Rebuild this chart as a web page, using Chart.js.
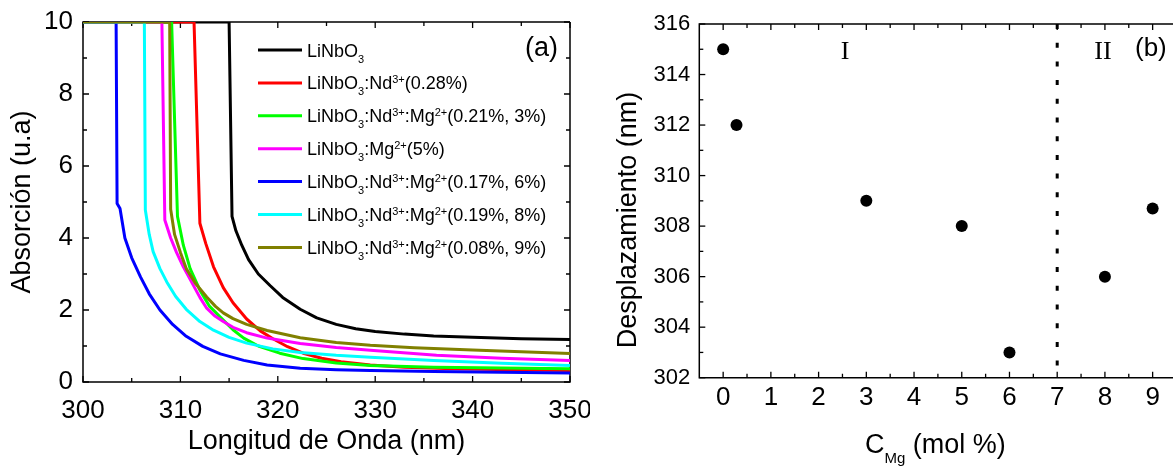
<!DOCTYPE html>
<html>
<head>
<meta charset="utf-8">
<script src="https://cdn.jsdelivr.net/npm/chart.js@4.4.0/dist/chart.umd.min.js"></script>
<style>
    html, body { margin: 0; padding: 0; background: #fff; overflow: hidden; }
    body { width: 1173px; height: 468px; position: relative; }
    #absChart { position: absolute; left: 0; top: 0; }
    #shiftChart { position: absolute; left: 590px; top: 0; }
</style>
</head>
<body>
<canvas id="absChart" width="590" height="468"></canvas>
<canvas id="shiftChart" width="600" height="468"></canvas>
<script>
// ==  (a) ABSORCIÓN  == //
const seriesNames = [
    "LiNbO_3",
    "LiNbO_3:Nd^{3+}(0.28%)",
    "LiNbO_3:Nd^{3+}:Mg^{2+}(0.21%, 3%)",
    "LiNbO_3:Mg^{2+}(5%)",
    "LiNbO_3:Nd^{3+}:Mg^{2+}(0.17%, 6%)",
    "LiNbO_3:Nd^{3+}:Mg^{2+}(0.19%, 8%)",
    "LiNbO_3:Nd^{3+}:Mg^{2+}(0.08%, 9%)"
];
const seriesColors = ["#000000", "#ff0000", "#00ff00", "#ff00ff", "#0000ff", "#00ffff", "#808000"];

const lnX = [300, 315.0, 315.3, 315.7, 316.3, 317.0, 318.0, 319.2, 320.5, 322.3, 324.0, 326.0, 328.0, 330.0, 333.0, 336.0, 340.0, 345.0, 350];
const lnY = [10, 10, 4.6, 4.2, 3.8, 3.4, 3.0, 2.68, 2.35, 2.02, 1.78, 1.6, 1.48, 1.4, 1.33, 1.28, 1.24, 1.2, 1.18];

const ndX = [300, 311.4, 312.0, 312.6, 313.4, 314.4, 315.4, 316.8, 318.2, 319.5, 321.0, 322.6, 324.5, 326.5, 329.5, 333.0, 338.0, 344.0, 350];
const ndY = [10, 10, 4.41, 3.85, 3.2, 2.62, 2.2, 1.75, 1.42, 1.2, 0.98, 0.8, 0.66, 0.56, 0.47, 0.41, 0.37, 0.34, 0.32];

const ndMg3X = [300, 309.1, 309.7, 310.3, 311.0, 312.0, 313.0, 314.4, 315.4, 316.5, 318.0, 320.2, 322.6, 326.0, 329.5, 336.0, 343.0, 350];
const ndMg3Y = [10, 10, 4.6, 3.8, 3.15, 2.55, 2.1, 1.72, 1.45, 1.22, 1.0, 0.8, 0.65, 0.53, 0.46, 0.41, 0.39, 0.37];

const mg5X = [300, 308.1, 308.4, 309.0, 309.6, 310.3, 311.0, 312.0, 312.7, 313.5, 314.4, 315.4, 316.8, 318.9, 322.3, 326.0, 329.5, 336.3, 343.0, 350];
const mg5Y = [10, 10, 4.5, 4.0, 3.6, 3.2, 2.85, 2.35, 2.05, 1.84, 1.68, 1.52, 1.37, 1.22, 1.07, 0.96, 0.88, 0.74, 0.66, 0.60];

const ndMg6X = [300, 303.4, 303.5, 303.8, 304.3, 305.0, 305.9, 306.8, 307.9, 309.2, 310.6, 312.3, 314.1, 316.5, 318.9, 322.3, 326.0, 329.5, 336.0, 343.0, 350];
const ndMg6Y = [10, 10, 4.96, 4.82, 4.0, 3.45, 2.92, 2.45, 2.0, 1.6, 1.27, 0.99, 0.78, 0.6, 0.47, 0.38, 0.34, 0.32, 0.29, 0.27, 0.25];

const ndMg8X = [300, 306.3, 306.4, 306.8, 307.2, 307.9, 308.6, 309.5, 310.6, 312.0, 313.4, 315.0, 316.8, 319.5, 322.3, 326.0, 329.5, 336.0, 343.0, 350];
const ndMg8Y = [10, 10, 4.78, 4.1, 3.62, 3.15, 2.78, 2.38, 2.02, 1.68, 1.44, 1.24, 1.08, 0.92, 0.82, 0.74, 0.69, 0.6, 0.52, 0.46];

const ndMg9X = [300, 308.9, 309.0, 309.4, 310.0, 310.6, 311.6, 312.7, 313.6, 314.4, 315.4, 316.8, 318.9, 322.3, 326.0, 329.5, 334.0, 340.0, 345.0, 350];
const ndMg9Y = [10, 10, 4.8, 4.1, 3.6, 3.15, 2.72, 2.36, 2.1, 1.92, 1.76, 1.6, 1.43, 1.23, 1.1, 1.02, 0.95, 0.89, 0.84, 0.79];

const wlTicks = [300, 310, 320, 330, 340, 350];
const absTicks = [0, 2, 4, 6, 8, 10];

// ==  (b) DESPLAZAMIENTO  == //
const cMg = [0, 0.28, 3, 5, 6, 8, 9];
const shiftNm = [315, 312, 309, 308, 303, 306, 308.7];
const regionLimit = 7;
const cTicks = [0, 1, 2, 3, 4, 5, 6, 7, 8, 9];
const shiftTicks = [302, 304, 306, 308, 310, 312, 314, 316];

const FONT = "'Liberation Sans', Arial, sans-serif";
const SERIF = "'Liberation Serif', 'Times New Roman', serif";

// texto con subíndices (_) y superíndices (^)
function richParts(s) {
    const parts = [];
    const re = /_\{([^}]*)\}|_(.)|\^\{([^}]*)\}|\^(.)|([^_^]+)/g;
    let m;
    while ((m = re.exec(s))) {
        if (m[1] !== undefined || m[2] !== undefined) parts.push({ t: m[1] ?? m[2], k: "sub" });
        else if (m[3] !== undefined || m[4] !== undefined) parts.push({ t: m[3] ?? m[4], k: "sup" });
        else parts.push({ t: m[5], k: "n" });
    }
    return parts;
}

function drawRich(ctx, s, x, y, size, small, subDy, supDy) {
    ctx.textAlign = "left";
    ctx.textBaseline = "alphabetic";
    richParts(s).forEach(p => {
        ctx.font = (p.k === "n" ? size : small) + "px " + FONT;
        const dy = p.k === "sub" ? subDy : p.k === "sup" ? -supDy : 0;
        ctx.fillText(p.t, x, y + dy);
        x += ctx.measureText(p.t).width;
    });
}

function midpoints(arr) {
    const out = [];
    for (let i = 0; i < arr.length - 1; i++) out.push((arr[i] + arr[i + 1]) / 2);
    return out;
}

// marco con marcas hacia dentro
const framePlugin = {
    id: "frame",
    beforeDatasetsDraw(chart) {
        const o = chart.options.plugins.frame;
        if (!o) return;
        const { ctx, chartArea: a, scales: { x, y } } = chart;
        ctx.save();
        ctx.strokeStyle = "#000";
        ctx.lineWidth = 1.5;
        ctx.beginPath();
        ctx.moveTo(a.right + (o.right ? 0 : 20), a.top);
        ctx.lineTo(a.left, a.top);
        ctx.lineTo(a.left, a.bottom);
        ctx.lineTo(a.right + (o.right ? 0 : 20), a.bottom);
        if (o.right) ctx.lineTo(a.right, a.top);
        ctx.stroke();
        ctx.lineWidth = 1.3;
        const xMarks = (vals, len) => vals.forEach(v => {
            const px = x.getPixelForValue(v);
            ctx.beginPath();
            ctx.moveTo(px, a.bottom); ctx.lineTo(px, a.bottom - len);
            ctx.moveTo(px, a.top); ctx.lineTo(px, a.top + len);
            ctx.stroke();
        });
        const yMarks = (vals, len) => vals.forEach(v => {
            const py = y.getPixelForValue(v);
            ctx.beginPath();
            ctx.moveTo(a.left, py); ctx.lineTo(a.left + len, py);
            if (o.right) { ctx.moveTo(a.right, py); ctx.lineTo(a.right - len, py); }
            ctx.stroke();
        });
        xMarks(o.xMajor, 6); xMarks(midpoints(o.xMajor), 4);
        yMarks(o.yMajor, 6); yMarks(midpoints(o.yMajor), 4);
        ctx.restore();
    }
};

// leyenda y rótulos
const notesPlugin = {
    id: "notes",
    afterDatasetsDraw(chart) {
        const o = chart.options.plugins.notes;
        if (!o) return;
        const ctx = chart.ctx;
        ctx.save();
        ctx.fillStyle = "#000";
        if (o.legend) {
            o.legend.forEach((name, i) => {
                const yRow = 50 + i * 32.9;
                ctx.strokeStyle = seriesColors[i];
                ctx.lineWidth = 3;
                ctx.beginPath();
                ctx.moveTo(258, yRow); ctx.lineTo(302, yRow);
                ctx.stroke();
                drawRich(ctx, name, 307, yRow + 6.5, 18, 11, 6, 6);
            });
        }
        (o.texts || []).forEach(t => {
            ctx.save();
            ctx.translate(t.x, t.y);
            if (t.rotate) ctx.rotate(t.rotate);
            if (t.rich) {
                drawRich(ctx, t.text, 0, 0, t.size, t.small, t.subDy, 0);
            } else {
                ctx.font = t.size + "px " + (t.family || FONT);
                ctx.textAlign = t.align || "center";
                ctx.textBaseline = t.baseline || "middle";
                ctx.fillText(t.text, 0, 0);
            }
            ctx.restore();
        });
        ctx.restore();
    }
};

const pairs = (xs, ys) => xs.map((x, i) => ({ x: x, y: ys[i] }));
const absSeries = [
    pairs(lnX, lnY), pairs(ndX, ndY), pairs(ndMg3X, ndMg3Y), pairs(mg5X, mg5Y),
    pairs(ndMg6X, ndMg6Y), pairs(ndMg8X, ndMg8Y), pairs(ndMg9X, ndMg9Y)
];

function hiddenGrid() {
    return { display: false, drawTicks: false };
}

// 🔹 Gráfico (a)
new Chart(document.getElementById("absChart"), {
    type: "line",
    data: {
        datasets: absSeries.map((d, i) => ({
            data: d,
            borderColor: seriesColors[i],
            borderWidth: 3,
            borderJoinStyle: "round",
            pointRadius: 0,
            fill: false,
            tension: 0,
            order: absSeries.length - 1 - i
        }))
    },
    options: {
        responsive: false,
        animation: false,
        devicePixelRatio: 1,
        events: [],
        layout: { padding: { top: 22, right: 20, left: 0, bottom: 0 } },
        plugins: {
            legend: { display: false },
            tooltip: { enabled: false },
            frame: { xMajor: wlTicks, yMajor: absTicks, right: true },
            notes: {
                legend: seriesNames,
                texts: [{ text: "(a)", x: 558, y: 49, size: 27, align: "right" }]
            }
        },
        scales: {
            x: {
                type: "linear", min: 300, max: 350,
                grid: hiddenGrid(), border: { display: false },
                afterBuildTicks: s => { s.ticks = wlTicks.map(v => ({ value: v })); },
                afterFit: s => { s.height = 86; s.paddingLeft = 0; s.paddingRight = 0; },
                ticks: { color: "#000", font: { family: FONT, size: 26 }, padding: 13, maxRotation: 0, autoSkip: false },
                title: { display: true, text: "Longitud de Onda (nm)", color: "#000", font: { family: FONT, size: 27 }, padding: { top: 0, bottom: 10 } }
            },
            y: {
                type: "linear", min: 0, max: 10,
                grid: hiddenGrid(), border: { display: false },
                afterBuildTicks: s => { s.ticks = absTicks.map(v => ({ value: v })); },
                afterFit: s => { s.width = 83; s.paddingTop = 0; s.paddingBottom = 0; },
                ticks: { color: "#000", font: { family: FONT, size: 26 }, padding: 10, autoSkip: false },
                title: { display: true, text: "Absorción (u.a)", color: "#000", font: { family: FONT, size: 27 }, padding: { top: 6, bottom: 0 } }
            }
        }
    },
    plugins: [framePlugin, notesPlugin]
});

// 🔹 Gráfico (b)
new Chart(document.getElementById("shiftChart"), {
    type: "scatter",
    data: {
        datasets: [
            {
                data: pairs(cMg, shiftNm),
                backgroundColor: "#000",
                borderWidth: 0,
                pointRadius: 6
            },
            {
                data: [{ x: regionLimit, y: 316 }, { x: regionLimit, y: 302 }],
                showLine: true,
                borderColor: "#000",
                borderWidth: 3,
                borderDash: [5, 13.7],
                pointRadius: 0
            }
        ]
    },
    options: {
        responsive: false,
        animation: false,
        devicePixelRatio: 1,
        events: [],
        layout: { padding: { top: 24, right: 13.5, left: 0, bottom: 0 } },
        plugins: {
            legend: { display: false },
            tooltip: { enabled: false },
            frame: { xMajor: cTicks, yMajor: shiftTicks, right: false },
            notes: {
                texts: [
                    { text: "I", x: 255, y: 59, size: 26, family: SERIF, baseline: "alphabetic" },
                    { text: "II", x: 513, y: 59, size: 26, family: SERIF, baseline: "alphabetic" },
                    { text: "(b)", x: 545, y: 49, size: 26, align: "left" },
                    { text: "Desplazamiento (nm)", x: 39, y: 220, size: 27, rotate: -Math.PI / 2 },
                    { text: "C_{Mg} (mol %)", x: 275, y: 453, size: 27, small: 15, subDy: 10, rich: true }
                ]
            }
        },
        scales: {
            x: {
                type: "linear", min: -0.5, max: 9.5,
                grid: hiddenGrid(), border: { display: false },
                afterBuildTicks: s => { s.ticks = cTicks.map(v => ({ value: v })); },
                afterFit: s => { s.height = 90.3; s.paddingLeft = 0; s.paddingRight = 0; },
                ticks: { color: "#000", font: { family: FONT, size: 26 }, padding: 5, maxRotation: 0, autoSkip: false }
            },
            y: {
                type: "linear", min: 302, max: 316,
                grid: hiddenGrid(), border: { display: false },
                afterBuildTicks: s => { s.ticks = shiftTicks.map(v => ({ value: v })); },
                afterFit: s => { s.width = 109.3; s.paddingTop = 0; s.paddingBottom = 0; },
                ticks: { color: "#000", font: { family: FONT, size: 22 }, padding: 9, autoSkip: false }
            }
        }
    },
    plugins: [framePlugin, notesPlugin]
});
</script>
</body>
</html>
